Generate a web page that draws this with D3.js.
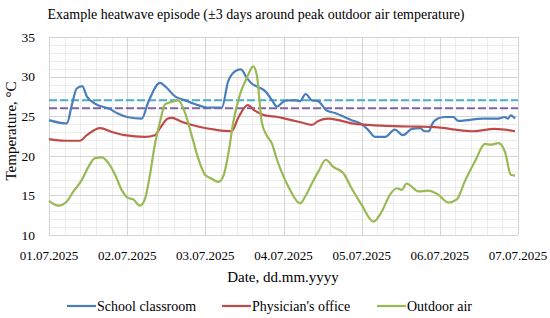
<!DOCTYPE html>
<html>
<head>
<meta charset="utf-8">
<script src="https://cdn.jsdelivr.net/npm/d3@7"></script>
<style>
  body { margin: 0; background: #fff; }
  svg { display: block; }
  text { font-family: "Liberation Serif", "DejaVu Serif", serif; fill: #000; }
</style>
</head>
<body>
<svg id="chart" width="550" height="318"></svg>
<script>
// hours since 01.07.2025 00:00
const dateLabels = ["01.07.2025", "02.07.2025", "03.07.2025", "04.07.2025", "05.07.2025", "06.07.2025", "07.07.2025"];
const yTicks = [10, 15, 20, 25, 30, 35];

const classroomHours = [0, 4.9, 5.5, 7.0, 8.5, 10.2, 11.6, 14.1, 18.7, 21.3, 24.0, 28.5, 30.5, 34.1, 35.6, 38.7, 41.8, 45.7, 48.5, 53.1, 55.0, 57.7, 58.9, 60.8, 62.3, 64.2, 66.3, 68.5, 70.0, 71.8, 73.4, 75.5, 77.1, 78.8, 80.7, 82.6, 85.3, 87.8, 92.9, 96.0, 97.9, 100.1, 103.2, 106.2, 108.7, 111.4, 113.9, 115.4, 116.7, 117.5, 119.4, 121.6, 124.1, 125.7, 128.6, 132.9, 137.9, 140.0, 140.9, 141.8, 143.1];
const classroomTemp = [24.5, 24.1, 24.1, 26.4, 28.5, 28.8, 27.5, 26.6, 25.9, 25.3, 24.9, 24.7, 26.8, 29.2, 28.8, 27.5, 27.0, 26.4, 26.1, 26.1, 29.4, 30.8, 30.9, 29.8, 29.1, 28.7, 28.2, 27.0, 26.2, 26.8, 27.0, 27.0, 26.9, 27.8, 27.0, 26.9, 25.7, 25.4, 24.5, 24.0, 23.3, 22.4, 22.4, 23.3, 22.6, 23.4, 23.5, 23.1, 23.1, 23.9, 24.7, 24.9, 24.9, 24.4, 24.5, 24.7, 24.7, 24.9, 24.7, 25.1, 24.7];

const officeHours = [0, 4.9, 9.5, 11.6, 15.7, 19.3, 23.3, 29.5, 32.5, 34.1, 36.5, 37.7, 40.7, 45.7, 51.0, 56.1, 58.0, 61.0, 63.2, 66.3, 70.3, 72.5, 77.6, 80.7, 82.7, 85.8, 88.8, 92.9, 98.0, 102.1, 110.8, 119.5, 124.7, 129.8, 136.9, 143.1];
const officeTemp = [22.1, 21.9, 21.9, 22.6, 23.5, 23.0, 22.6, 22.4, 22.6, 23.5, 24.7, 24.8, 24.3, 23.7, 23.3, 23.1, 24.7, 26.4, 25.7, 25.1, 24.9, 24.7, 24.2, 23.9, 24.4, 24.7, 24.5, 24.1, 23.9, 23.8, 23.7, 23.6, 23.3, 23.1, 23.4, 23.1];

const outdoorHours = [0, 2.9, 5.4, 7.5, 10.0, 12.1, 14.1, 16.2, 18.2, 20.3, 22.3, 24.2, 25.9, 27.9, 29.5, 31.0, 32.5, 34.1, 35.6, 37.7, 39.7, 41.8, 43.8, 45.8, 47.9, 50.0, 52.0, 53.5, 55.0, 56.6, 58.6, 60.7, 62.7, 63.8, 65.3, 66.8, 68.4, 70.0, 72.0, 74.0, 77.1, 78.6, 80.7, 82.7, 85.0, 87.3, 90.4, 92.9, 96.0, 99.6, 102.1, 104.7, 106.8, 108.3, 109.8, 110.8, 113.4, 116.5, 119.5, 122.6, 125.2, 127.7, 130.8, 133.9, 135.7, 138.0, 140.0, 141.8, 143.1];
const outdoorTemp = [14.3, 13.7, 14.2, 15.5, 16.9, 18.6, 19.7, 19.8, 19.1, 17.6, 15.7, 14.7, 14.5, 13.7, 14.6, 17.6, 21.4, 24.3, 26.5, 26.8, 27.0, 25.4, 22.6, 19.7, 17.6, 17.1, 16.7, 17.4, 20.1, 24.3, 27.7, 29.8, 31.3, 30.2, 24.3, 22.6, 21.6, 19.5, 17.4, 15.7, 14.0, 14.8, 16.5, 18.0, 19.5, 18.6, 17.8, 15.9, 13.8, 11.7, 12.9, 15.1, 15.9, 15.7, 16.5, 16.3, 15.5, 15.6, 15.1, 14.1, 14.5, 16.8, 19.3, 21.5, 21.4, 21.6, 20.5, 17.6, 17.5];

const thresholdValues = [27, 26];

const series = [
  { name: "School classroom", hours: classroomHours, temp: classroomTemp, color: "#4a7ebb" },
  { name: "Physician's office", hours: officeHours, temp: officeTemp, color: "#be4b48" },
  { name: "Outdoor air", hours: outdoorHours, temp: outdoorTemp, color: "#98b954" }
];
const thresholdColors = ["#4bacc6", "#8064a2"];

const svg = d3.select("#chart");
const plotLeft = 49, plotRight = 518, plotTop = 37, plotBottom = 235;
const fontFamily = "'Liberation Serif', 'DejaVu Serif', serif";

const x = d3.scaleLinear().domain([0, 144]).range([plotLeft, plotRight]);
const y = d3.scaleLinear().domain([10, 35]).range([plotBottom, plotTop]);

// minor grid
const grid = svg.append("g");
grid.selectAll("line.hminor")
  .data(d3.range(10, 36, 1))
  .enter().append("line")
  .attr("x1", plotLeft).attr("x2", plotRight)
  .attr("y1", d => Math.round(y(d)) + 0.5).attr("y2", d => Math.round(y(d)) + 0.5)
  .attr("stroke", "#ececec").attr("stroke-width", 1);
grid.selectAll("line.vminor")
  .data(d3.range(0, 144.1, 4.8))
  .enter().append("line")
  .attr("x1", d => Math.round(x(d)) + 0.5).attr("x2", d => Math.round(x(d)) + 0.5)
  .attr("y1", plotTop).attr("y2", plotBottom)
  .attr("stroke", "#ececec").attr("stroke-width", 1);
// major grid
grid.selectAll("line.hmajor")
  .data(yTicks)
  .enter().append("line")
  .attr("x1", plotLeft).attr("x2", plotRight)
  .attr("y1", d => Math.round(y(d)) + 0.5).attr("y2", d => Math.round(y(d)) + 0.5)
  .attr("stroke", "#d4d4d4").attr("stroke-width", 1);
grid.selectAll("line.vmajor")
  .data(dateLabels)
  .enter().append("line")
  .attr("x1", (d, i) => Math.round(x(i * 24)) + 0.5).attr("x2", (d, i) => Math.round(x(i * 24)) + 0.5)
  .attr("y1", plotTop).attr("y2", plotBottom)
  .attr("stroke", "#d4d4d4").attr("stroke-width", 1);

// y tick labels
svg.selectAll("text.ytick")
  .data(yTicks)
  .enter().append("text")
  .attr("font-family", fontFamily)
  .attr("x", 35).attr("y", d => y(d))
  .attr("dy", "0.35em")
  .attr("text-anchor", "end")
  .attr("font-size", 13.5)
  .text(d => d);

// x tick labels
svg.selectAll("text.xtick")
  .data(dateLabels)
  .enter().append("text")
  .attr("font-family", fontFamily)
  .attr("x", (d, i) => x(i * 24)).attr("y", 255)
  .attr("dy", "0.35em")
  .attr("text-anchor", "middle")
  .attr("font-size", 13)
  .text(d => d);

// threshold lines
svg.selectAll("line.thr")
  .data(thresholdValues)
  .enter().append("line")
  .attr("x1", plotLeft).attr("x2", plotRight)
  .attr("y1", d => y(d)).attr("y2", d => y(d))
  .attr("stroke", (d, i) => thresholdColors[i])
  .attr("stroke-width", 2)
  .attr("stroke-dasharray", "8,3");

const line = d3.line()
  .x(d => x(d[0]))
  .y(d => y(d[1]))
  .curve(d3.curveMonotoneX);

svg.selectAll("path.series")
  .data(series)
  .enter().append("path")
  .attr("fill", "none")
  .attr("stroke", d => d.color)
  .attr("stroke-width", 2.2)
  .attr("stroke-linejoin", "round")
  .attr("d", d => line(d.hours.map((h, i) => [h, d.temp[i]])));

// titles
svg.append("text")
  .attr("font-family", fontFamily)
  .attr("x", 256).attr("y", 14)
  .attr("dy", "0.35em")
  .attr("text-anchor", "middle")
  .attr("font-size", 14)
  .text("Example heatwave episode (±3 days around peak outdoor air temperature)");

svg.append("text")
  .attr("font-family", fontFamily)
  .attr("transform", "translate(11,131) rotate(-90)")
  .attr("dy", "0.35em")
  .attr("text-anchor", "middle")
  .attr("font-size", 15)
  .text("Temperature, °C");

svg.append("text")
  .attr("font-family", fontFamily)
  .attr("x", 283).attr("y", 277)
  .attr("dy", "0.35em")
  .attr("text-anchor", "middle")
  .attr("font-size", 15)
  .text("Date, dd.mm.yyyy");

// legend
const legendX = [67, 222, 377];
const legend = svg.selectAll("g.legend")
  .data(series)
  .enter().append("g")
  .attr("transform", (d, i) => `translate(${legendX[i]},306)`);
legend.append("line")
  .attr("x1", 0).attr("x2", 29)
  .attr("stroke", d => d.color)
  .attr("stroke-width", 2.2);
legend.append("text")
  .attr("font-family", fontFamily)
  .attr("x", 30)
  .attr("dy", "0.35em")
  .attr("font-size", 14)
  .text(d => d.name);
</script>
</body>
</html>
